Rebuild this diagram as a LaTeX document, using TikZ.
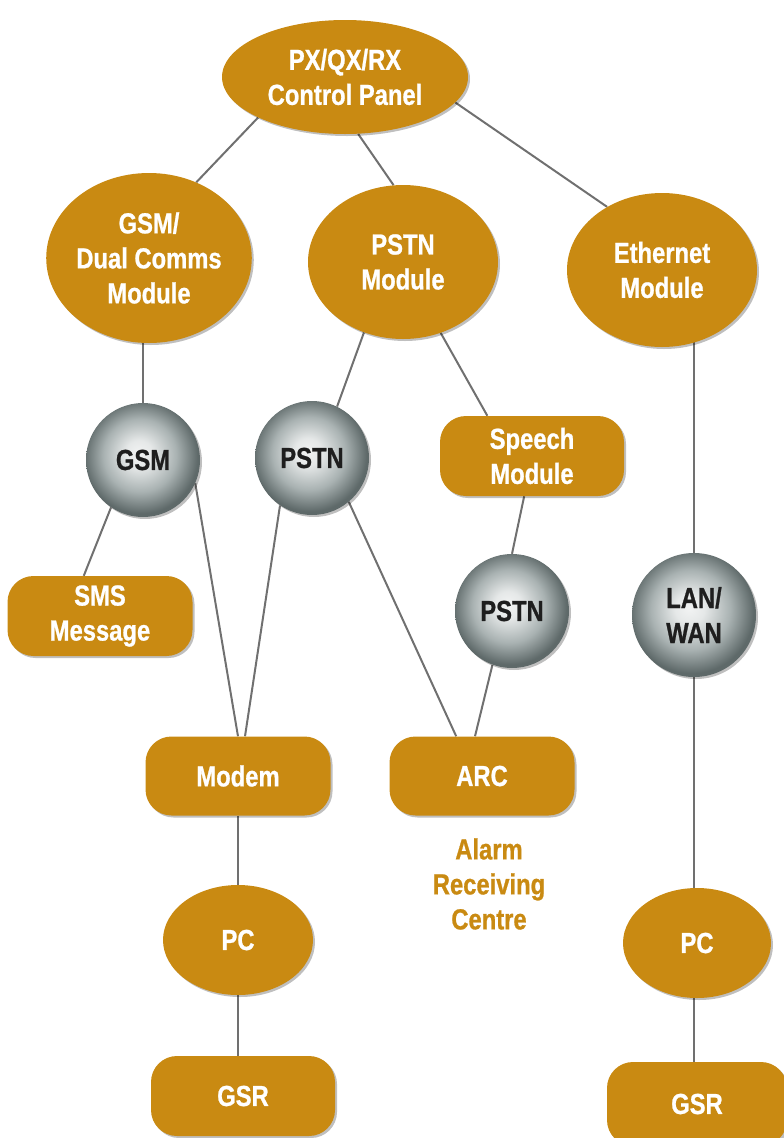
\documentclass[tikz,border=0pt]{standalone}
\usepackage{fontspec}
\setmainfont{Liberation Sans}[FakeStretch=0.82, BoldFeatures={FakeBold=0.8}]
\usetikzlibrary{shapes.geometric,shadows,backgrounds}
\definecolor{gold}{HTML}{C98A12}
\definecolor{wirecol}{HTML}{707070}
\definecolor{sphedge}{HTML}{5E6969}
\definecolor{sphmid}{HTML}{A9B2B2}
\definecolor{sphtext}{HTML}{1E1E1E}
\pgfdeclareradialshading{sphere}{\pgfpoint{-2bp}{3bp}}{color(0bp)=(white!85!sphmid); color(6bp)=(white!70!sphmid); color(16bp)=(sphmid); color(25bp)=(sphedge); color(50bp)=(sphedge)}
\tikzset{
  lbl/.style={font=\bfseries\fontsize{29}{35}\selectfont, align=center},
  shd/.style={drop shadow={shadow xshift=2pt, shadow yshift=-2pt, opacity=0.25, fill=black}},
  oval/.style={ellipse, fill=gold, inner sep=0pt, text=white, lbl, shd},
  pill/.style={rectangle, rounded corners=26pt, fill=gold, inner sep=0pt, text=white, lbl, shd},
  sph/.style={circle, shading=sphere, inner sep=0pt, text=sphtext, lbl, shd},
  conn/.style={draw=wirecol, line width=2pt},
}
\begin{document}
\begin{tikzpicture}[x=1pt,y=-1pt]
\useasboundingbox (0,0) rectangle (784,1138);
\clip (0,0) rectangle (784,1138);
% top level
\node[oval, minimum width=246pt, minimum height=114pt] (cp) at (345,77) {PX/QX/RX\\Control Panel};
\node[oval, minimum width=190pt, minimum height=170pt] (gsmm) at (149,258) {GSM/\\Dual Comms\\Module};
\node[oval, minimum width=190pt, minimum height=154pt] (pm) at (403,262) {PSTN\\Module};
\node[oval, minimum width=190pt, minimum height=154pt] (eth) at (662,270) {Ethernet\\Module};
% spheres
\node[sph, minimum size=114pt] (gsm) at (143,460) {GSM};
\node[sph, minimum size=114pt] (ps1) at (312,458) {PSTN};
\node[sph, minimum size=114pt] (ps2) at (512,611) {PSTN};
\node[sph, minimum size=124pt] (lan) at (694,615) {LAN/\\WAN};
% boxes
\node[pill, minimum width=184pt, minimum height=80pt] (speech) at (532,456) {Speech\\Module};
\node[pill, minimum width=185pt, minimum height=80pt] (sms) at (100,616) {SMS\\Message};
\node[pill, minimum width=185pt, minimum height=79pt] (modem) at (238,776) {Modem};
\node[pill, minimum width=185pt, minimum height=79pt] (arc) at (482,776) {ARC};
\node[lbl, text=gold] (arctxt) at (489,884) {Alarm\\Receiving\\Centre};
\node[oval, minimum width=150pt, minimum height=110pt] (pc1) at (238,940) {PC};
\node[pill, minimum width=184pt, minimum height=80pt] (gsr1) at (243,1096) {GSR};
\node[oval, minimum width=148pt, minimum height=110pt] (pc2) at (697,943) {PC};
\node[pill, minimum width=180pt, minimum height=84pt] (gsr2) at (697,1104) {GSR};
% connectors
\begin{scope}[on background layer]
\draw[conn] (cp.205) -- (gsmm.58);
\draw[conn] (cp.283) -- (pm.97);
\draw[conn] (cp.-13) -- (eth.131);
\draw[conn] (gsm |- gsmm) -- (gsm);
\draw[conn] (pm.241) -- (ps1.64);
\draw[conn] (pm.-62) -- (speech.138);
\draw[conn] (lan |- eth) -- (lan);
\draw[conn] (gsm.236) -- (sms.112);
\draw[conn] (gsm.-24) -- (modem.north);
\draw[conn] (ps1.236) -- (modem.80);
\draw[conn] (ps1.-50) -- (arc.123);
\draw[conn] (speech.259) -- (ps2.north);
\draw[conn] (ps2.250) -- (arc.100);
\draw[conn] (modem) -- (pc1);
\draw[conn] (pc1) -- (gsr1.north -| pc1);
\draw[conn] (lan) -- (pc2.north -| lan);
\draw[conn] (pc2.center -| lan) -- (gsr2.north -| lan);
\end{scope}
\end{tikzpicture}
\end{document}
